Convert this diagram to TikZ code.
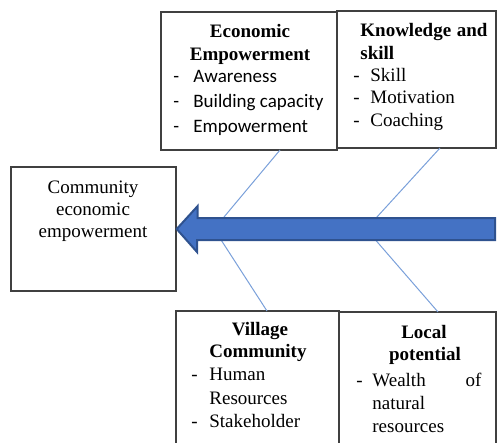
\documentclass[tikz,border=0pt]{standalone}
\usepackage{fontspec}
\setmainfont{Liberation Serif}
\newfontfamily\calibri{Carlito}
\usetikzlibrary{fit}
\definecolor{arrowblue}{HTML}{4472C4}
\definecolor{arrowedge}{HTML}{2F528F}
\definecolor{bonecol}{HTML}{7AA0DA}

\begin{document}
\begin{tikzpicture}[x=0.5pt,y=-0.5pt,
        box/.style={draw=black!75,line width=0.7pt,inner sep=0pt},
        bone/.style={draw=bonecol,line width=0.5pt},
        bigarrow/.style={fill=arrowblue,draw=arrowedge,line width=1pt,line join=miter},
        txt/.style={inner sep=0pt,font=\fontsize{9.5}{11.5}\selectfont},
        head/.style={txt,font=\fontsize{9.5}{11.5}\selectfont\bfseries},
        cal/.style={txt,font=\calibri\fontsize{9.5}{11.5}\selectfont}]
    \useasboundingbox (0,0) rectangle (497,443);
    \clip (0,0) rectangle (497,443);
    % boxes
    \node[box,fit={(161,12) (337,150)}] (econ) {};
    \node[box,fit={(337,11) (496,148)}] (know) {};
    \node[box,fit={(11,167) (176,291)}] (goal) {};
    \node[box,fit={(176,311) (339,470)}] (village) {};
    \node[box,fit={(339,312) (496,470)}] (local) {};
    % bones
    \coordinate (jointA) at (214,229);
    \coordinate (jointB) at (366,229);
    \coordinate (econ-foot) at (280,150);
    \coordinate (know-foot) at (440,148);
    \coordinate (village-top) at (267,311);
    \coordinate (local-top) at (438,312);
    \draw[bone] (jointA) -- (econ-foot);
    \draw[bone] (jointA) -- (village-top);
    \draw[bone] (jointB) -- (know-foot);
    \draw[bone] (jointB) -- (local-top);
    % spine
    \draw[bigarrow] (goal.east) -- ++(21,-23) -- ++(0,12) -- (495,218)
        -- (495,240) -- (197,240) -- (197,252) -- cycle;
    % economic empowerment
    \node[head,anchor=base] (econ-t1) at (250,38) {Economic};
    \node[head,anchor=base] (econ-t2) at (250,61) {Empowerment};
    \foreach \y/\lbl [count=\i] in {83/Awareness,108/Building capacity,133/Empowerment} {
        \node[cal,anchor=base west] (econ-d\i) at (173,\y) {-};
        \node[cal,anchor=base west] (econ-i\i) at (193,\y) {\lbl};
    }
    % knowledge and skill
    \node[head,anchor=base west,text width=63.5pt] (know-t1) at (360,37) {Knowledge\hfill and};
    \node[head,anchor=base west] (know-t2) at (360,60) {skill};
    \foreach \y/\lbl [count=\i] in {82/Skill,104/Motivation,127/Coaching} {
        \node[txt,anchor=base west] (know-d\i) at (353,\y) {-};
        \node[txt,anchor=base west] (know-i\i) at (370,\y) {\lbl};
    }
    % goal
    \node[txt,anchor=base] (goal-t1) at (93,193) {Community};
    \node[txt,anchor=base] (goal-t2) at (93,215) {economic};
    \node[txt,anchor=base] (goal-t3) at (93,237) {empowerment};
    % village community
    \node[head,anchor=base] (village-t1) at (260,335) {Village};
    \node[head,anchor=base] (village-t2) at (258,357) {Community};
    \node[txt,anchor=base west] (village-d1) at (191,380) {-};
    \node[txt,anchor=base west] (village-i1) at (209,380) {Human};
    \node[txt,anchor=base west] (village-i2) at (209,404) {Resources};
    \node[txt,anchor=base west] (village-d3) at (191,427) {-};
    \node[txt,anchor=base west] (village-i3) at (209,427) {Stakeholder};
    % local potential
    \node[head,anchor=base] (local-t1) at (424,338) {Local};
    \node[head,anchor=base] (local-t2) at (425,360) {potential};
    \node[txt,anchor=base west] (local-d1) at (356,386) {-};
    \node[txt,anchor=base west,text width=54.5pt] (local-i1) at (372,386) {Wealth\hfill of};
    \node[txt,anchor=base west] (local-i2) at (372,409) {natural};
    \node[txt,anchor=base west] (local-i3) at (372,432) {resources};
\end{tikzpicture}
\end{document}
